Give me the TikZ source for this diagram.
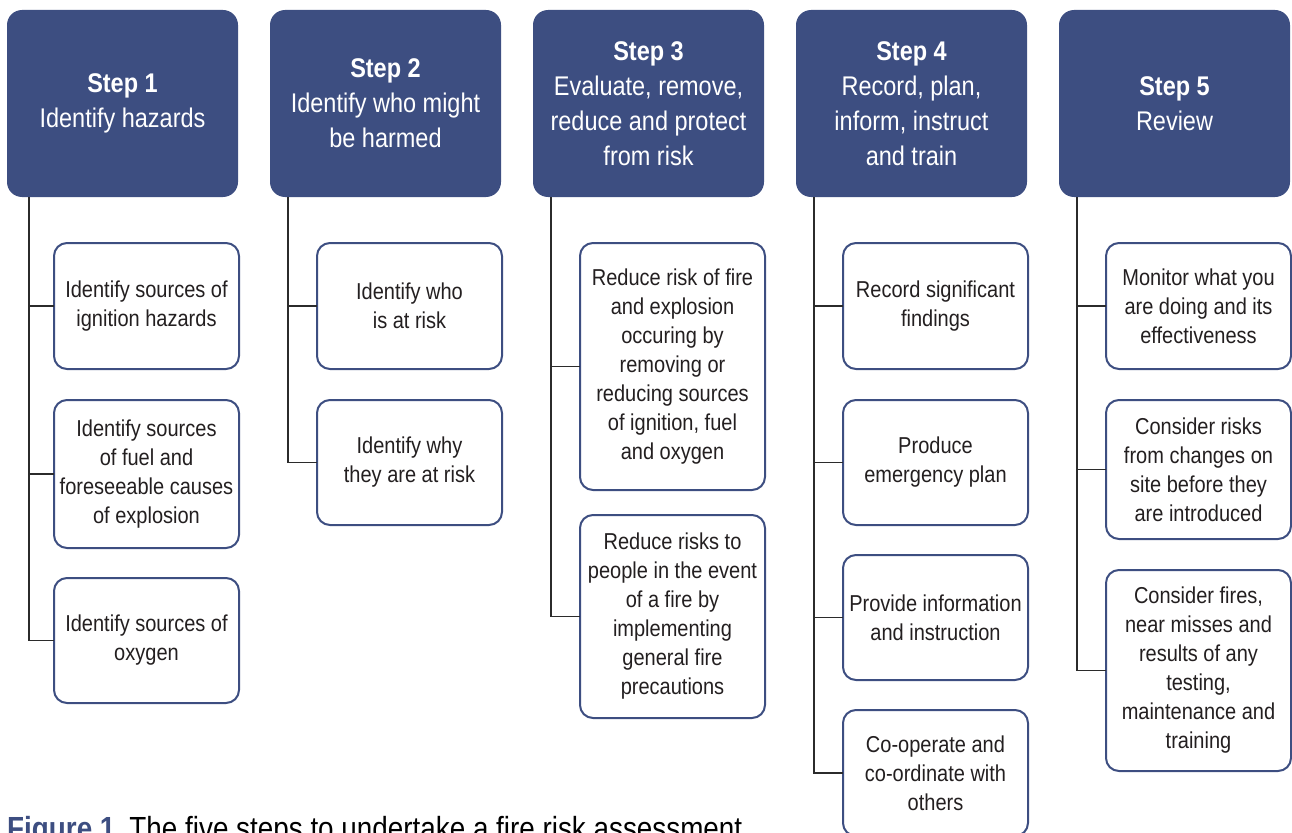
\documentclass[tikz,border=0pt]{standalone}
\usepackage{fontspec}
\setmainfont{Liberation Sans}[FakeStretch=0.87]
\usepackage{tikz}
\usetikzlibrary{positioning}
\definecolor{stepblue}{HTML}{3D4E81}
\definecolor{inktext}{HTML}{231F20}
\definecolor{spine}{HTML}{2B2B2B}
\tikzset{
    stepbox/.style={rectangle, fill=stepblue, text=white, rounded corners=15pt, minimum width=231pt, minimum height=187pt, align=center, inner sep=0pt, outer sep=0pt, font=\fontsize{27}{35}\selectfont},
    taskbox/.style={rectangle, draw=stepblue, line width=2pt, fill=white, text=inktext, rounded corners=13pt, minimum width=185pt, align=center, inner sep=0pt, outer sep=0pt, font=\fontsize{23}{29}\selectfont},
    link/.style={draw=spine, line width=1.4pt}
}
\begin{document}
\begin{tikzpicture}[x=1pt, y=1pt]
    \useasboundingbox (0,0) rectangle (1292,-832);

    % step headers
    \node [stepbox, anchor=north west] (h1) at (7,-10) {\textbf{Step 1}\\Identify hazards};
    \node [stepbox, right=32pt of h1] (h2) {\textbf{Step 2}\\Identify who might\\be harmed};
    \node [stepbox, right=32pt of h2] (h3) {\textbf{Step 3}\\Evaluate, remove,\\reduce and protect\\from risk};
    \node [stepbox, right=32pt of h3] (h4) {\textbf{Step 4}\\Record, plan,\\inform, instruct\\and train};
    \node [stepbox, right=32pt of h4] (h5) {\textbf{Step 5}\\Review};

    % step 1
    \node [taskbox, minimum height=126pt, below left=46pt and -1pt of h1.south east] (s1a) {Identify sources of\\ignition hazards};
    \node [taskbox, minimum height=148pt, below=31pt of s1a] (s1b) {Identify sources\\of fuel and\\foreseeable causes\\of explosion};
    \node [taskbox, minimum height=125pt, below=30pt of s1b] (s1c) {Identify sources of\\oxygen};

    % step 2
    \node [taskbox, minimum height=126pt, below left=46pt and -1pt of h2.south east] (s2a) {Identify who\\is at risk};
    \node [taskbox, minimum height=125pt, below=31pt of s2a] (s2b) {Identify why\\they are at risk};

    % step 3
    \node [taskbox, minimum height=247pt, below left=46pt and -1pt of h3.south east] (s3a) {Reduce risk of fire\\and explosion\\occuring by\\removing or\\reducing sources\\of ignition, fuel\\and oxygen};
    \node [taskbox, minimum height=203pt, below=25pt of s3a] (s3b) {Reduce risks to\\people in the event\\of a fire by\\implementing\\general fire\\precautions};

    % step 4
    \node [taskbox, minimum height=126pt, below left=46pt and -1pt of h4.south east] (s4a) {Record significant\\findings};
    \node [taskbox, minimum height=125pt, below=31pt of s4a] (s4b) {Produce\\emergency plan};
    \node [taskbox, minimum height=125pt, below=30pt of s4b] (s4c) {Provide information\\and instruction};
    \node [taskbox, minimum height=126pt, below=30pt of s4c] (s4d) {Co-operate and\\co-ordinate with\\others};

    % step 5
    \node [taskbox, minimum height=126pt, below left=46pt and -1pt of h5.south east] (s5a) {Monitor what you\\are doing and its\\effectiveness};
    \node [taskbox, minimum height=139pt, below=31pt of s5a] (s5b) {Consider risks\\from changes on\\site before they\\are introduced};
    \node [taskbox, minimum height=201pt, below=31pt of s5b] (s5c) {Consider fires,\\near misses and\\results of any\\testing,\\maintenance and\\training};

    % spines
    \draw [link] ([xshift=22pt]h1.south west) |- (s1a.west);
    \draw [link] ([xshift=22pt]h1.south west) |- (s1b.west);
    \draw [link] ([xshift=22pt]h1.south west) |- (s1c.west);
    \draw [link] ([xshift=18pt]h2.south west) |- (s2a.west);
    \draw [link] ([xshift=18pt]h2.south west) |- (s2b.west);
    \draw [link] ([xshift=18pt]h3.south west) |- (s3a.west);
    \draw [link] ([xshift=18pt]h3.south west) |- (s3b.west);
    \draw [link] ([xshift=18pt]h4.south west) |- (s4a.west);
    \draw [link] ([xshift=18pt]h4.south west) |- (s4b.west);
    \draw [link] ([xshift=18pt]h4.south west) |- (s4c.west);
    \draw [link] ([xshift=18pt]h4.south west) |- (s4d.west);
    \draw [link] ([xshift=18pt]h5.south west) |- (s5a.west);
    \draw [link] ([xshift=18pt]h5.south west) |- (s5b.west);
    \draw [link] ([xshift=18pt]h5.south west) |- (s5c.west);

    % caption
    \node [anchor=base west, inner sep=0pt, text=black, font=\fontsize{32}{38}\selectfont] (caption) at (7,-839) {\textcolor{stepblue}{\bfseries Figure 1}\hspace{14pt}The five steps to undertake a fire risk assessment};
\end{tikzpicture}
\end{document}
